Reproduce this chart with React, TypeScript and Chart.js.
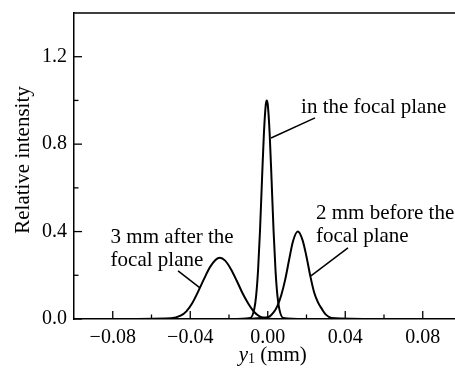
import React, { useEffect, useRef } from "react";
import { Chart, registerables } from "chart.js";

Chart.register(...registerables);

// ---- Data ----
const afterX = [-0.087, -0.05, -0.045, -0.042, -0.039, -0.036, -0.033, -0.03, -0.027, -0.0247, -0.022, -0.019, -0.016, -0.013, -0.01, -0.007, -0.004, -0.001, 0.003, 0.02];
const afterY = [0, 0.004, 0.015, 0.035, 0.072, 0.124, 0.181, 0.234, 0.27, 0.28, 0.267, 0.228, 0.175, 0.118, 0.07, 0.032, 0.011, 0.003, 0, 0];

const focalX = [-0.02, -0.009, -0.007, -0.006, -0.005, -0.004, -0.003, -0.002, -0.001, -0.0005, 0, 0.001, 0.002, 0.003, 0.004, 0.005, 0.006, 0.008, 0.02];
const focalY = [0, 0.005, 0.044, 0.106, 0.223, 0.404, 0.63, 0.846, 0.982, 1.0, 0.982, 0.846, 0.63, 0.404, 0.223, 0.106, 0.044, 0.005, 0];

const beforeX = [-0.015, 0.0, 0.003, 0.005, 0.007, 0.009, 0.011, 0.013, 0.0155, 0.018, 0.02, 0.022, 0.024, 0.026, 0.028, 0.03, 0.033, 0.06];
const beforeY = [0, 0.008, 0.03, 0.06, 0.11, 0.18, 0.27, 0.355, 0.4, 0.36, 0.285, 0.195, 0.12, 0.075, 0.045, 0.02, 0.005, 0];

const xTicks = [-0.08, -0.04, 0, 0.04, 0.08];
const xMinorTicks = [-0.06, -0.02, 0.02, 0.06];
const yTicks = [0, 0.4, 0.8, 1.2];
const yMinorTicks = [0.2, 0.6, 1.0];

const xTitleVar = "y";
const xTitleSub = "1";
const xTitleRest = " (mm)";
const yTitle = "Relative intensity";

const labelFocal = ["in the focal plane"];
const labelBefore = ["2 mm before the", "focal plane"];
const labelAfter = ["3 mm after the", "focal plane"];

// annotation placements (data coordinates)
const annotations = [
  { lines: labelFocal, x: 0.0172, y: 0.966, from: [0.0244, 0.92], to: [0.0017, 0.828] },
  { lines: labelBefore, x: 0.0249, y: 0.485, from: [0.0414, 0.325], to: [0.0223, 0.197] },
  { lines: labelAfter, x: -0.0811, y: 0.375, from: [-0.0463, 0.22], to: [-0.035, 0.142] },
];

const SERIF = "'Liberation Serif', 'Times New Roman', serif";

const fmtX = (v: number) => {
  if (Math.abs(v) < 1e-9) return "0.00";
  const s = Math.abs(v).toFixed(2);
  return v < 0 ? "\u2212" + s : s;
};

const framePlugin = {
  id: "frame",
  afterDatasetsDraw(chart: any) {
    const { ctx, chartArea, scales } = chart;
    const xs = scales.x;
    const ys = scales.y;
    ctx.save();
    ctx.strokeStyle = "#000";
    ctx.lineWidth = 1.5;
    // top border
    ctx.beginPath();
    ctx.moveTo(chartArea.left, chartArea.top);
    ctx.lineTo(chartArea.right, chartArea.top);
    ctx.stroke();
    // inward ticks
    ctx.lineWidth = 1.3;
    const b = chartArea.bottom;
    const l = chartArea.left;
    xTicks.forEach((v) => {
      const p = xs.getPixelForValue(v);
      ctx.beginPath();
      ctx.moveTo(p, b);
      ctx.lineTo(p, b - 8);
      ctx.stroke();
    });
    xMinorTicks.forEach((v) => {
      const p = xs.getPixelForValue(v);
      ctx.beginPath();
      ctx.moveTo(p, b);
      ctx.lineTo(p, b - 4.5);
      ctx.stroke();
    });
    yTicks.forEach((v) => {
      const p = ys.getPixelForValue(v);
      ctx.beginPath();
      ctx.moveTo(l, p);
      ctx.lineTo(l + 8, p);
      ctx.stroke();
    });
    yMinorTicks.forEach((v) => {
      const p = ys.getPixelForValue(v);
      ctx.beginPath();
      ctx.moveTo(l, p);
      ctx.lineTo(l + 4.5, p);
      ctx.stroke();
    });

    // annotations
    ctx.fillStyle = "#000";
    ctx.font = `21px ${SERIF}`;
    ctx.textAlign = "left";
    ctx.textBaseline = "middle";
    annotations.forEach((a) => {
      const tx = xs.getPixelForValue(a.x);
      const ty = ys.getPixelForValue(a.y);
      a.lines.forEach((t, i) => ctx.fillText(t, tx, ty + i * 23.5));
      ctx.lineWidth = 1.5;
      ctx.beginPath();
      ctx.moveTo(xs.getPixelForValue(a.from[0]), ys.getPixelForValue(a.from[1]));
      ctx.lineTo(xs.getPixelForValue(a.to[0]), ys.getPixelForValue(a.to[1]));
      ctx.stroke();
    });

    // x title with subscript
    const cx = xs.getPixelForValue(0) + 5;
    const cy = 355;
    ctx.font = `italic 21px ${SERIF}`;
    const w1 = ctx.measureText(xTitleVar).width;
    ctx.font = `14px ${SERIF}`;
    const w2 = ctx.measureText(xTitleSub).width;
    ctx.font = `21px ${SERIF}`;
    const w3 = ctx.measureText(xTitleRest).width;
    let x0 = cx - (w1 + w2 + w3) / 2;
    ctx.font = `italic 21px ${SERIF}`;
    ctx.fillText(xTitleVar, x0, cy);
    x0 += w1;
    ctx.font = `14px ${SERIF}`;
    ctx.fillText(xTitleSub, x0, cy + 4);
    x0 += w2;
    ctx.font = `21px ${SERIF}`;
    ctx.fillText(xTitleRest, x0, cy);

    // y title
    ctx.save();
    ctx.translate(23, 160);
    ctx.rotate(-Math.PI / 2);
    ctx.textAlign = "center";
    ctx.font = `21px ${SERIF}`;
    ctx.fillText(yTitle, 0, 0);
    ctx.restore();

    ctx.restore();
  },
};

export default function App() {
  const ref = useRef<HTMLCanvasElement | null>(null);

  useEffect(() => {
    if (!ref.current) return;
    const mk = (xs: number[], ys: number[]) => xs.map((x, i) => ({ x, y: ys[i] }));
    const common = {
      borderColor: "#000",
      borderWidth: 2,
      pointRadius: 0,
      fill: false,
      cubicInterpolationMode: "monotone" as const,
    };
    const chart = new Chart(ref.current, {
      type: "line",
      data: {
        datasets: [
          { ...common, label: "3 mm after", data: mk(afterX, afterY) },
          { ...common, label: "focal", data: mk(focalX, focalY) },
          { ...common, label: "2 mm before", data: mk(beforeX, beforeY) },
        ],
      },
      options: {
        animation: false,
        responsive: false,
        devicePixelRatio: 1,
        layout: { padding: { top: 13, left: 0, right: 0.5, bottom: 0 } },
        plugins: { legend: { display: false }, tooltip: { enabled: false } },
        scales: {
          x: {
            type: "linear",
            min: -0.1,
            max: 0.1,
            grid: { display: false, drawTicks: false },
            border: { display: true, color: "#000", width: 1.5 },
            afterBuildTicks: (s: any) => {
              s.ticks = xTicks.map((v) => ({ value: v }));
            },
            afterFit: (s: any) => {
              s.height = 50;
              s.paddingLeft = 0;
              s.paddingRight = 0;
              s.paddingTop = 0;
              s.paddingBottom = 0;
            },
            ticks: {
              color: "#000",
              font: { family: SERIF, size: 20 },
              padding: 7,
              maxRotation: 0,
              autoSkip: false,
              callback: (v: any) => fmtX(Number(v)),
            },
          },
          y: {
            type: "linear",
            min: 0,
            max: 1.4,
            grid: { display: false, drawTicks: false },
            border: { display: true, color: "#000", width: 1.5 },
            afterBuildTicks: (s: any) => {
              s.ticks = yTicks.map((v) => ({ value: v }));
            },
            afterFit: (s: any) => {
              s.width = 74;
              s.paddingLeft = 0;
              s.paddingRight = 0;
              s.paddingTop = 0;
              s.paddingBottom = 0;
            },
            ticks: {
              color: "#000",
              font: { family: SERIF, size: 20 },
              padding: 7,
              autoSkip: false,
              callback: (v: any) => Number(v).toFixed(1),
            },
          },
        },
      },
      plugins: [framePlugin],
    });
    return () => chart.destroy();
  }, []);

  return (
    <div
      style={{
        position: "fixed",
        left: 0,
        top: 0,
        width: 455,
        height: 369,
        overflow: "hidden",
        background: "#fff",
      }}
    >
      <canvas ref={ref} width={462} height={369} style={{ display: "block" }} />
    </div>
  );
}
